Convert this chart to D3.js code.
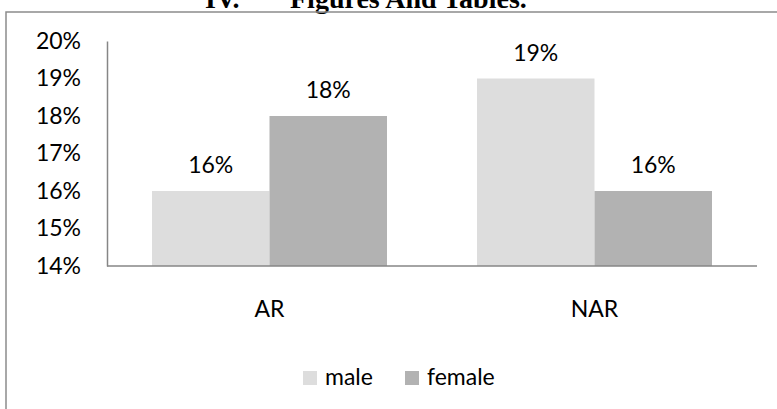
<!DOCTYPE html>
<html>
<head>
<meta charset="utf-8">
<script src="https://cdn.jsdelivr.net/npm/d3@7"></script>
<style>
  body { margin: 0; background: #fff; }
  svg { display: block; }
  .lbl { font-family: Lato, "Open Sans", sans-serif; font-size: 23px; fill: #000; }
  .head { font-family: "Liberation Serif", serif; font-weight: bold; font-size: 28px; }
</style>
</head>
<body>
<svg id="chart" width="777" height="409"></svg>
<script>
// data
var categories = ["AR", "NAR"];
var seriesNames = ["male", "female"];
var male = [0.16, 0.19];
var female = [0.18, 0.16];
var yTicks = [0.14, 0.15, 0.16, 0.17, 0.18, 0.19, 0.20];
var colors = ["#dddddd", "#b2b2b2"];

var svg = d3.select("#chart");

// page heading, cut off at top
svg.append("text").attr("class", "head").attr("x", 205).attr("y", 8).text("IV.");
svg.append("text").attr("class", "head").attr("x", 290).attr("y", 8).text("Figures And Tables.");

// chart frame (runs off the right and bottom)
svg.append("rect")
    .attr("x", 6).attr("y", 12)
    .attr("width", 900).attr("height", 500)
    .attr("fill", "none").attr("stroke", "#8c8c8c").attr("stroke-width", 1.5);

var pLeft = 107, pRight = 757, pTop = 41, pBottom = 266;

var x0 = d3.scaleBand().domain(categories).range([pLeft, pRight])
    .paddingInner(90 / 325).paddingOuter(45 / 325);
var x1 = d3.scaleBand().domain(seriesNames).range([0, x0.bandwidth()]);
var y = d3.scaleLinear().domain([0.14, 0.20]).range([pBottom, pTop]);

var rows = categories.map(function(c, i){
    return {cat: c, vals: [{s: "male", v: male[i]}, {s: "female", v: female[i]}]};
});

var g = svg.selectAll(".cat").data(rows).enter().append("g")
    .attr("class", "cat")
    .attr("transform", function(d){ return "translate(" + x0(d.cat) + ",0)"; });

g.selectAll("rect").data(function(d){ return d.vals; }).enter().append("rect")
    .attr("x", function(d){ return x1(d.s); })
    .attr("y", function(d){ return y(d.v); })
    .attr("width", x1.bandwidth())
    .attr("height", function(d){ return pBottom - y(d.v); })
    .attr("fill", function(d, i){ return colors[i]; });

g.selectAll(".val").data(function(d){ return d.vals; }).enter().append("text")
    .attr("class", "lbl val")
    .attr("x", function(d){ return x1(d.s) + x1.bandwidth() / 2; })
    .attr("y", function(d){ return y(d.v) - 18; })
    .attr("text-anchor", "middle")
    .text(function(d){ return Math.round(d.v * 100) + "%"; });

// axes
var yAxis = d3.axisLeft(y).tickValues(yTicks).tickSize(0).tickPadding(26)
    .tickFormat(d3.format(".0%"));
var ya = svg.append("g").attr("transform", "translate(" + pLeft + ",0)").call(yAxis);
ya.select(".domain").attr("stroke", "#868686").attr("stroke-width", 1.5);
ya.selectAll("text").attr("class", "lbl").attr("fill", "#000");

svg.append("line")
    .attr("x1", pLeft).attr("x2", pRight)
    .attr("y1", pBottom).attr("y2", pBottom)
    .attr("stroke", "#868686").attr("stroke-width", 1.5);

svg.selectAll(".catlbl").data(categories).enter().append("text")
    .attr("class", "lbl catlbl")
    .attr("x", function(d){ return x0(d) + x0.bandwidth() / 2; })
    .attr("y", 317)
    .attr("text-anchor", "middle")
    .text(function(d){ return d; });

// legend
var legX = [303, 405];
var leg = svg.selectAll(".leg").data(seriesNames).enter().append("g")
    .attr("class", "leg")
    .attr("transform", function(d, i){ return "translate(" + legX[i] + ",371)"; });
leg.append("rect").attr("width", 14).attr("height", 14)
    .attr("fill", function(d, i){ return colors[i]; });
leg.append("text").attr("class", "lbl").attr("x", 22).attr("y", 14)
    .text(function(d){ return d; });
</script>
</body>
</html>
